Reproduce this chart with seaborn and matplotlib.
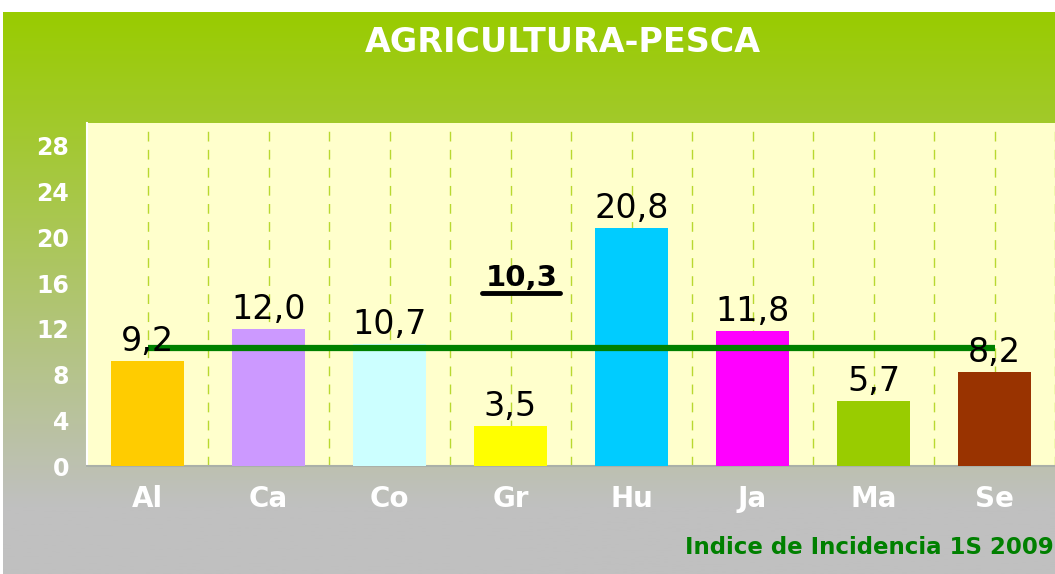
import numpy as np
import pandas as pd
import matplotlib
matplotlib.use("Agg")
import matplotlib.pyplot as plt
from matplotlib.colors import to_rgb
from matplotlib.lines import Line2D
import seaborn as sns

# data
categories = ["Al", "Ca", "Co", "Gr", "Hu", "Ja", "Ma", "Se"]
values = [9.2, 12.0, 10.7, 3.5, 20.8, 11.8, 5.7, 8.2]
bar_colors = ["#FFCC00", "#CC99FF", "#CCFFFF", "#FFFF00",
              "#00CCFF", "#FF00FF", "#99CC00", "#993300"]
average = 10.3
y_ticks = [0, 4, 8, 12, 16, 20, 24, 28]
title = "AGRICULTURA-PESCA"
footer = "Indice de Incidencia 1S 2009"

sns.set_theme(style="white")
plt.rcParams["font.family"] = ["DejaVu Sans"]

W, H = 1055, 574
fig = plt.figure(figsize=(W / 100, H / 100), dpi=100)
fig.patch.set_facecolor("white")

# background gradient (green -> gray)
bg = fig.add_axes([3 / W, 0, 1 - 3 / W, 1 - 12 / H])
bg.set_axis_off()
top_c = np.array(to_rgb("#99CC00"))
bot_c = np.array(to_rgb("#C0C0C0"))
t = np.clip(np.linspace(0, 1, 400) / 0.88, 0, 1)[:, None]
grad = top_c * (1 - t) + bot_c * t
bg.imshow(grad[:, None, :], aspect="auto", extent=[0, 1, 0, 1])

# plot area
ax = fig.add_axes([87 / W, 1 - 466 / H, 1 - 87 / W, (466 - 123) / H])
ax.set_facecolor("#FFFFCC")

df = pd.DataFrame({"cat": categories, "val": values})
sns.barplot(data=df, x="cat", y="val", hue="cat", palette=bar_colors,
            width=0.61, saturation=1, legend=False, linewidth=0,
            ax=ax, zorder=3)

ax.set_xlim(-0.5, 7.5)
ax.set_ylim(0, 30)
ax.set_yticks(y_ticks)
ax.set_xticks(np.arange(len(categories)))
ax.set_xticks(np.arange(len(categories)) + 0.5, minor=True)
ax.set_xticklabels(categories)

for xv in np.arange(0, len(categories), 0.5):
    ax.axvline(xv, color="#B8D830", lw=1, ls=(0, (7, 6)), zorder=1)

for s in ["top", "right"]:
    ax.spines[s].set_visible(False)
for s in ["left", "bottom"]:
    ax.spines[s].set_color("white")
    ax.spines[s].set_linewidth(1.5)
ax.spines["bottom"].set_color("#AAB0A8")

ax.tick_params(axis="y", colors="white", length=7, width=1.2, labelsize=17, pad=6)
ax.tick_params(axis="x", which="major", length=0, labelcolor="white",
               labelsize=20, pad=14)
ax.tick_params(axis="x", which="minor", length=7, color="white", width=1.2)
for lab in ax.get_yticklabels() + ax.get_xticklabels():
    lab.set_fontweight("bold")
ax.set_xlabel("")
ax.set_ylabel("")

# bar value labels
for i, v in enumerate(values):
    ax.annotate(f"{v:.1f}".replace(".", ","), (i, v), xytext=(0, 2),
                textcoords="offset points", ha="center", va="bottom",
                fontsize=24, color="black", zorder=5)

# average line
ax.plot([0, len(categories) - 1], [average, average], color="#008000",
        lw=4.5, solid_capstyle="butt", zorder=4)
avg_txt = ax.text(3.09, 16.4, f"{average:.1f}".replace(".", ","),
                  ha="center", va="center", fontsize=21, fontweight="bold",
                  color="black", zorder=5)

fig.text(563 / W, 1 - 42 / H, title, ha="center", va="center",
         fontsize=24, fontweight="bold", color="white")
fig.text(0.999, 1 - 548 / H, footer, ha="right", va="center",
         fontsize=16.5, fontweight="bold", color="#008000")

# underline for the average label
fig.canvas.draw()
bb = avg_txt.get_window_extent()
y_line = (bb.y0 - 1) / H
fig.add_artist(Line2D([(bb.x0 - 3) / W, (bb.x1 + 3) / W], [y_line, y_line],
                      color="black", lw=3.5))

fig.savefig("out.png", dpi=100)
